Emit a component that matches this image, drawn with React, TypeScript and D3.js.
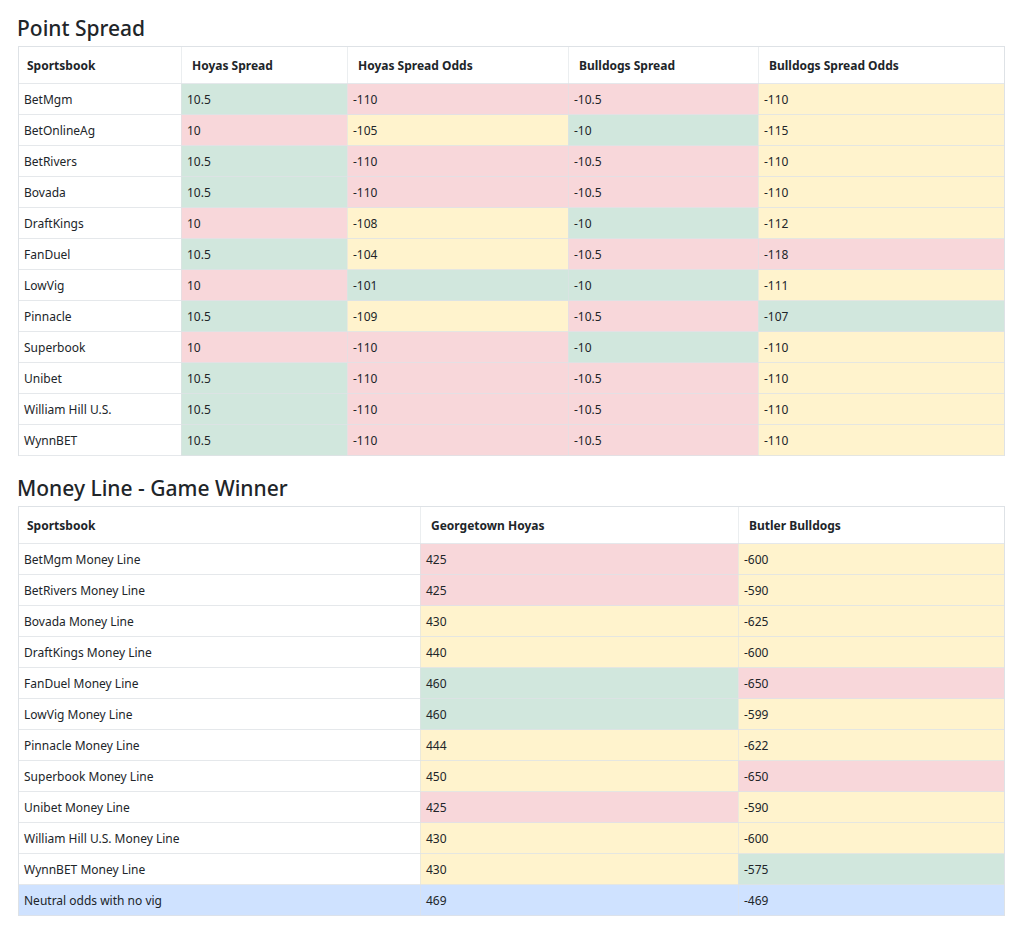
import React from "react";
import * as d3 from "d3";

const spreadBooks = ["BetMgm","BetOnlineAg","BetRivers","Bovada","DraftKings","FanDuel","LowVig","Pinnacle","Superbook","Unibet","William Hill U.S.","WynnBET"];
const spreadHeaders = ["Sportsbook","Hoyas Spread","Hoyas Spread Odds","Bulldogs Spread","Bulldogs Spread Odds"];
const hoyasSpread = ["10.5","10","10.5","10.5","10","10.5","10","10.5","10","10.5","10.5","10.5"];
const hoyasSpreadOdds = ["-110","-105","-110","-110","-108","-104","-101","-109","-110","-110","-110","-110"];
const bulldogsSpread = ["-10.5","-10","-10.5","-10.5","-10","-10.5","-10","-10.5","-10","-10.5","-10.5","-10.5"];
const bulldogsSpreadOdds = ["-110","-115","-110","-110","-112","-118","-111","-107","-110","-110","-110","-110"];

const mlBooks = ["BetMgm Money Line","BetRivers Money Line","Bovada Money Line","DraftKings Money Line","FanDuel Money Line","LowVig Money Line","Pinnacle Money Line","Superbook Money Line","Unibet Money Line","William Hill U.S. Money Line","WynnBET Money Line"];
const mlHeaders = ["Sportsbook","Georgetown Hoyas","Butler Bulldogs"];
const hoyasML = ["425","425","430","440","460","460","444","450","425","430","430"];
const bulldogsML = ["-600","-590","-625","-600","-650","-599","-622","-650","-590","-600","-575"];
const neutralLabel = "Neutral odds with no vig";
const neutralValues = ["469","-469"];

const GREEN = "#d1e7dd", RED = "#f8d7da", YELLOW = "#fff3cd", BLUE = "#cfe2ff";
const BORDER = "#dee2e6", TEXT = "#212529";
const FONT = "'Noto Sans', 'Open Sans', sans-serif";

function colorFor(values: string[]) {
  const nums = values.map(Number);
  const mx = d3.max(nums)!, mn = d3.min(nums)!;
  return (v: string) => (+v === mx ? GREEN : +v === mn ? RED : YELLOW);
}

type Row = { cells: string[]; fills: string[] };

function Table({ y0, edges, headers, rows }: { y0: number; edges: number[]; headers: string[]; rows: Row[] }) {
  const headH = 37, rowH = 31;
  const y = d3.scaleBand<number>().domain(d3.range(rows.length)).range([y0 + headH, y0 + headH + rowH * rows.length]).padding(0);
  const x = (i: number) => edges[i];
  const w = (i: number) => edges[i + 1] - edges[i];
  const right = edges[edges.length - 1];
  const bottom = y0 + headH + rowH * rows.length;
  return (
    <g>
      <rect x={edges[0]} y={y0} width={right - edges[0]} height={headH} fill="#fff" />
      {headers.map((h, i) => (
        <text key={h + i} x={x(i) + (i === 0 ? 9 : 11)} y={y0 + headH / 2} dy="0.35em" fontSize={12} fontWeight={700} fill={TEXT} fontFamily={FONT}>{h}</text>
      ))}
      {rows.map((r, ri) => (
        <g key={ri}>
          {r.cells.map((c, ci) => (
            <rect key={ci} x={x(ci)} y={y(ri)!} width={w(ci)} height={rowH} fill={r.fills[ci]} />
          ))}
        </g>
      ))}
      {d3.range(rows.length + 1).map((ri) => {
        const yy = ri === 0 ? y0 + headH : y(ri - 1)! + rowH;
        return <line key={"h" + ri} x1={edges[0]} x2={right} y1={yy - 0.5} y2={yy - 0.5} stroke={BORDER} strokeOpacity={0.8} />;
      })}
      <line x1={edges[0]} x2={right} y1={y0 - 0.5} y2={y0 - 0.5} stroke={BORDER} />
      {edges.map((e, i) => (
        <line key={"v" + i} x1={e + 0.5} x2={e + 0.5} y1={y0 - 1} y2={bottom} stroke={BORDER} strokeOpacity={i === 0 || i === edges.length - 1 ? 1 : 0.6} />
      ))}
      {rows.map((r, ri) => (
        <g key={"t" + ri}>
          {r.cells.map((c, ci) => (
            <text key={ci} x={x(ci) + 6} y={y(ri)! + rowH / 2} dy="0.35em" fontSize={12} fill={TEXT} fontFamily={FONT}>{c}</text>
          ))}
        </g>
      ))}
    </g>
  );
}

export default function App() {
  const c1 = colorFor(hoyasSpread), c2 = colorFor(hoyasSpreadOdds), c3 = colorFor(bulldogsSpread), c4 = colorFor(bulldogsSpreadOdds);
  const spreadRows: Row[] = spreadBooks.map((b, i) => ({
    cells: [b, hoyasSpread[i], hoyasSpreadOdds[i], bulldogsSpread[i], bulldogsSpreadOdds[i]],
    fills: ["#fff", c1(hoyasSpread[i]), c2(hoyasSpreadOdds[i]), c3(bulldogsSpread[i]), c4(bulldogsSpreadOdds[i])],
  }));
  const m1 = colorFor(hoyasML), m2 = colorFor(bulldogsML);
  const mlRows: Row[] = mlBooks.map((b, i) => ({
    cells: [b, hoyasML[i], bulldogsML[i]],
    fills: ["#fff", m1(hoyasML[i]), m2(bulldogsML[i])],
  }));
  mlRows.push({ cells: [neutralLabel, ...neutralValues], fills: [BLUE, BLUE, BLUE] });

  return (
    <svg width={1024} height={935} style={{ position: "absolute", left: 0, top: 0, background: "#fff" }}>
      <text x={17} y={36} fontSize={21} fontWeight={500} fill={TEXT} fontFamily={FONT}>Point Spread</text>
      <Table y0={47} edges={[18, 181, 347, 568, 758, 1004]} headers={spreadHeaders} rows={spreadRows} />
      <text x={17} y={496} fontSize={21} fontWeight={500} fill={TEXT} fontFamily={FONT}>Money Line - Game Winner</text>
      <Table y0={507} edges={[18, 420, 738, 1004]} headers={mlHeaders} rows={mlRows} />
    </svg>
  );
}
